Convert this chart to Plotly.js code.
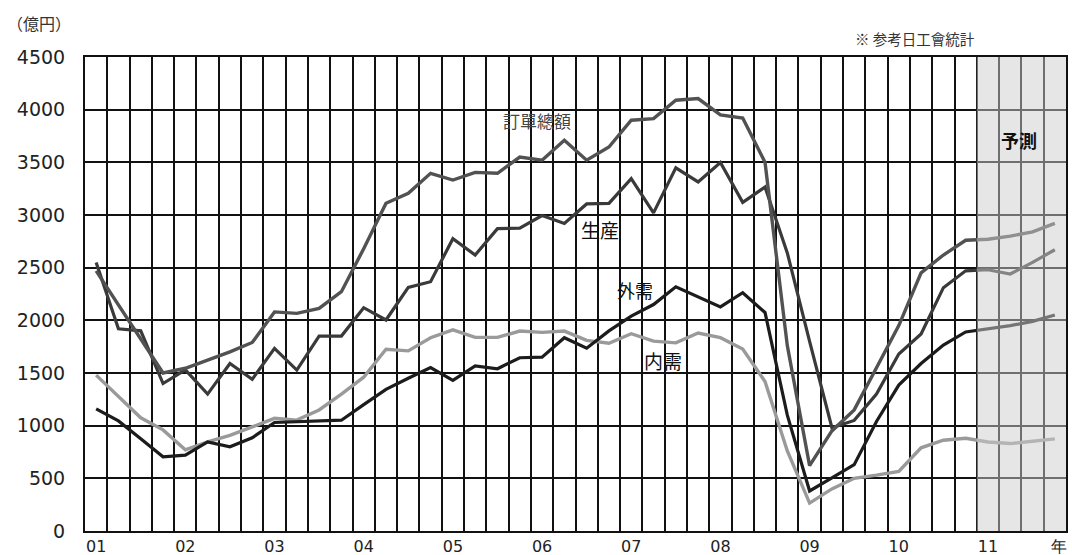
<!DOCTYPE html>
<html>
<head>
<meta charset="utf-8">
<script src="https://cdn.plot.ly/plotly-3.0.1.min.js"></script>
<style>
html,body{margin:0;padding:0;background:#fff;}
#chart{width:1072px;height:555px;}
</style>
</head>
<body>
<div id="chart"></div>
<script>
// ---- data (quarterly, 億円) ----
const years = ["01","02","03","04","05","06","07","08","09","10","11"];
const quarterNames = ["Q1","Q2","Q3","Q4"];
const quarters = years.flatMap(y => quarterNames.map(q => "20" + y + q));

const total = [2470, 2150, 1820, 1500,
               1545, 1620, 1700, 1790,
               2080, 2066, 2114, 2272,
               2680, 3111, 3206, 3396,
               3332, 3405, 3396, 3550,
               3520, 3710, 3520, 3645,
               3900, 3915, 4090, 4105,
               3950, 3920, 3500, 1760,
               620, 950, 1150, 1550,
               1950, 2450, 2620, 2760,
               2770, 2800, 2840, 2920];

const production = [2550, 1920, 1900, 1400,
                    1530, 1300, 1590, 1440,
                    1734, 1528, 1851, 1851,
                    2120, 2003, 2313, 2367,
                    2775, 2620, 2870, 2875,
                    2995, 2920, 3105, 3110,
                    3345, 3020, 3448, 3314,
                    3498, 3120, 3265, 2640,
                    1800, 980, 1050, 1300,
                    1680, 1870, 2310, 2470,
                    2480, 2440, 2550, 2670];

const foreign = [1160, 1045, 875, 705,
                 720, 845, 800, 885,
                 1030, 1038, 1040, 1052,
                 1200, 1345, 1450, 1552,
                 1430, 1568, 1540, 1645,
                 1650, 1835, 1736, 1900,
                 2040, 2150, 2318, 2220,
                 2128, 2262, 2075, 1100,
                 380, 505, 630, 1040,
                 1385, 1590, 1765, 1890,
                 1920, 1950, 1990, 2050];

const domestic = [1480, 1275, 1075, 960,
                  770, 845, 908, 988,
                  1070, 1053, 1149, 1300,
                  1460, 1725, 1710, 1835,
                  1910, 1838, 1838, 1898,
                  1886, 1898, 1810, 1783,
                  1873, 1802, 1786, 1880,
                  1835, 1728, 1420, 760,
                  265, 400, 500, 530,
                  565, 790, 862, 880,
                  845, 830, 850, 875];

const seriesNames = ["訂單總額", "生産", "外需", "内需"];
const xTickLabels = years.concat(["年"]);
const yTicks = [0, 500, 1000, 1500, 2000, 2500, 3000, 3500, 4000, 4500];
const forecastStart = "2011Q1";
const forecastLabel = "予測";
const unitLabel = "（億円）";
const sourceLabel = "※ 参考日工會統計";

// ---- layout helpers ----
const nQ = quarters.length;
const xs = quarters.map((q, i) => i + 0.5);
const fIdx = quarters.indexOf(forecastStart);
const xTickVals = years.map((y, i) => i * 4 + 0.5).concat([nQ - 0.3]);

const CJK = '"Noto Sans CJK JP", "Noto Sans CJK TC", sans-serif';

function line(y, name, color, width) {
  return {
    x: xs, y: y, name: name, type: 'scatter', mode: 'lines',
    line: {color: color, width: width},
    text: quarters, hovertemplate: '%{text}: %{y}<extra>' + name + '</extra>'
  };
}

const traces = [
  line(domestic, seriesNames[3], '#9a9a9a', 3.4),
  line(foreign, seriesNames[2], '#1c1c1c', 3.2),
  line(production, seriesNames[1], '#3a3a3a', 3.2),
  line(total, seriesNames[0], '#525252', 3.4)
];

function ann(text, xref, yref, x, y, size, color, extra) {
  return Object.assign({text: text, xref: xref, yref: yref, x: x, y: y, showarrow: false,
    xanchor: 'center', yanchor: 'middle',
    font: {family: CJK, size: size, color: color}}, extra || {});
}

const layout = {
  width: 1072, height: 555,
  margin: {l: 85, r: 6, t: 57, b: 24},
  paper_bgcolor: '#ffffff', plot_bgcolor: '#ffffff',
  showlegend: false,
  xaxis: {
    range: [0, nQ],
    tickmode: 'array', tickvals: xTickVals, ticktext: xTickLabels,
    showgrid: false, zeroline: false,
    minor: {tickmode: 'linear', tick0: 0, dtick: 1, showgrid: true, gridcolor: '#111', gridwidth: 2, ticks: ''},
    showline: true, mirror: true, linecolor: '#111', linewidth: 2,
    ticks: '',
    tickfont: {family: '"DejaVu Sans", sans-serif', size: 16, color: '#222'},
    fixedrange: true
  },
  yaxis: {
    range: [0, 4500],
    tickmode: 'array', tickvals: yTicks,
    showgrid: true, gridcolor: '#111', gridwidth: 2, zeroline: false,
    showline: true, mirror: true, linecolor: '#111', linewidth: 2,
    ticks: 'outside', ticklen: 14, tickcolor: 'rgba(0,0,0,0)',
    tickfont: {family: '"DejaVu Sans", sans-serif', size: 19, color: '#222'},
    fixedrange: true
  },
  shapes: [{
    type: 'rect', xref: 'x', yref: 'y',
    x0: fIdx, x1: nQ, y0: 0, y1: 4500,
    fillcolor: 'rgba(205,205,205,0.5)', line: {width: 0}, layer: 'above'
  }],
  annotations: [
    ann(unitLabel, 'paper', 'paper', -0.047, 1.071, 16, '#333'),
    ann(sourceLabel, 'paper', 'paper', 0.846, 1.04, 14.5, '#333'),
    ann(seriesNames[0], 'x', 'y', 20.27, 3893, 17, '#444'),
    ann(seriesNames[1], 'x', 'y', 23.1, 2858, 19, '#111'),
    ann(seriesNames[2], 'x', 'y', 24.66, 2288, 18, '#111'),
    ann(seriesNames[3], 'x', 'y', 25.92, 1623, 19, '#111'),
    ann(forecastLabel, 'x', 'y', 41.88, 3712, 18, '#111', {font: {family: CJK, size: 18, color: '#111', weight: 700}})
  ]
};

Plotly.newPlot('chart', traces, layout, {displayModeBar: false, staticPlot: true});
</script>
</body>
</html>
